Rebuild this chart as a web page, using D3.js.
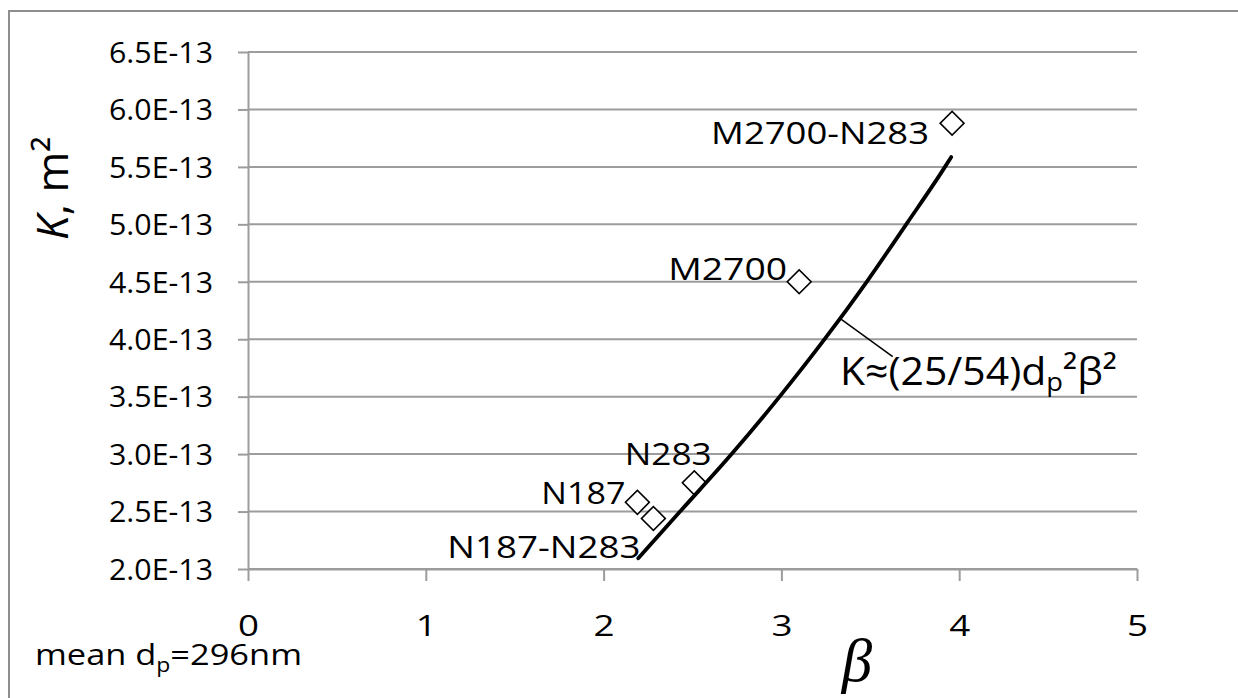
<!DOCTYPE html>
<html>
<head>
<meta charset="utf-8">
<script src="https://cdn.jsdelivr.net/npm/d3@7"></script>
<style>
  html, body { margin: 0; padding: 0; background: #ffffff; }
  svg { display: block; }
  text { font-family: 'Open Sans', sans-serif; fill: #000; }
</style>
</head>
<body>
<svg id="chart" width="1238" height="698"></svg>
<script>
// Measured permeability K of each particle bed against the shape factor beta
const sampleNames = ["N187", "N187-N283", "N283", "M2700", "M2700-N283"];
const sampleBeta  = [2.19, 2.28, 2.51, 3.10, 3.96];
const sampleK     = [2.58e-13, 2.44e-13, 2.75e-13, 4.50e-13, 5.88e-13];

// Model curve K ≈ (25/54) dp² β²
const modelBeta = [2.195, 2.43, 2.72, 2.99, 3.243, 3.48, 3.702, 3.92, 3.955];
const modelK    = [2.093e-13, 2.5e-13, 3.0e-13, 3.5e-13, 4.0e-13, 4.5e-13, 5.0e-13, 5.5e-13, 5.586e-13];

// Axis ticks
const xTicks      = [0, 1, 2, 3, 4, 5];
const xTickLabels = ["0", "1", "2", "3", "4", "5"];
const yTicks      = [2.0e-13, 2.5e-13, 3.0e-13, 3.5e-13, 4.0e-13, 4.5e-13, 5.0e-13, 5.5e-13, 6.0e-13, 6.5e-13];
const yTickLabels = ["2.0E-13", "2.5E-13", "3.0E-13", "3.5E-13", "4.0E-13", "4.5E-13", "5.0E-13", "5.5E-13", "6.0E-13", "6.5E-13"];

// ---- layout ----
const plot = { left: 248, right: 1137, top: 52, bottom: 569 };
const gridColor = "#9c9c9c";

// data-label placement relative to each marker: dx, dy (px), anchor, drawn width
const labelLayout = {
  "N187":       { dx: -12, dy: 2,   anchor: "end",    len: 84 },
  "N187-N283":  { dx: -13, dy: 40,  anchor: "end",    len: 193 },
  "N283":       { dx: -26, dy: -18, anchor: "middle", len: 87 },
  "M2700":      { dx: -12, dy: -2,  anchor: "end",    len: 119 },
  "M2700-N283": { dx: -23, dy: 21,  anchor: "end",    len: 218 }
};

const svg = d3.select("#chart");

const x = d3.scaleLinear().domain([0, 5]).range([plot.left, plot.right]);
const y = d3.scaleLinear().domain([2.0e-13, 6.5e-13]).range([plot.bottom, plot.top]);

// chart-area frame
svg.append("rect")
  .attr("x", 9).attr("y", 11)
  .attr("width", 1300).attr("height", 800)
  .attr("fill", "none")
  .attr("stroke", "#8e8e8e")
  .attr("stroke-width", 2);

// horizontal gridlines
svg.append("g")
  .selectAll("line")
  .data(yTicks)
  .join("line")
  .attr("x1", plot.left).attr("x2", plot.right)
  .attr("y1", d => y(d)).attr("y2", d => y(d))
  .attr("stroke", gridColor)
  .attr("stroke-width", 2);

// y axis
const yAxis = svg.append("g")
  .attr("transform", `translate(${plot.left},0)`)
  .call(d3.axisLeft(y)
    .tickValues(yTicks)
    .tickFormat((d, i) => yTickLabels[i])
    .tickSize(10)
    .tickSizeOuter(0)
    .tickPadding(25));

// x axis
const xAxis = svg.append("g")
  .attr("transform", `translate(0,${plot.bottom})`)
  .call(d3.axisBottom(x)
    .tickValues(xTicks)
    .tickFormat((d, i) => xTickLabels[i])
    .tickSize(12)
    .tickSizeOuter(0));

[yAxis, xAxis].forEach(g => {
  g.attr("font-family", null).attr("font-size", null);
  g.select(".domain").attr("stroke", gridColor).attr("stroke-width", 2);
  g.selectAll(".tick line").attr("stroke", gridColor).attr("stroke-width", 2);
});

yAxis.selectAll(".tick text")
  .attr("font-size", 28.5)
  .attr("dy", "0.36em")
  .attr("textLength", 104)
  .attr("lengthAdjust", "spacingAndGlyphs");

xAxis.selectAll(".tick text")
  .attr("font-size", 28.5)
  .attr("y", 67)
  .attr("dy", 0)
  .attr("textLength", 21)
  .attr("lengthAdjust", "spacingAndGlyphs");

// sample markers (open diamonds)
const samples = sampleNames.map((n, i) => ({ name: n, beta: sampleBeta[i], k: sampleK[i] }));
const diamond = d3.symbol().type(d3.symbolSquare).size(285);

svg.append("g")
  .selectAll("path")
  .data(samples)
  .join("path")
  .attr("d", diamond)
  .attr("transform", d => `translate(${x(d.beta)},${y(d.k)}) rotate(45)`)
  .attr("fill", "#fff")
  .attr("stroke", "#000")
  .attr("stroke-width", 1.6);

// model curve
const model = modelBeta.map((b, i) => ({ beta: b, k: modelK[i] }));
svg.append("path")
  .datum(model)
  .attr("d", d3.line().x(d => x(d.beta)).y(d => y(d.k)).curve(d3.curveMonotoneX))
  .attr("fill", "none")
  .attr("stroke", "#000")
  .attr("stroke-width", 3.8)
  .attr("stroke-linejoin", "round")
  .attr("stroke-linecap", "round");

// sample labels
svg.append("g")
  .selectAll("text")
  .data(samples)
  .join("text")
  .attr("x", d => x(d.beta) + labelLayout[d.name].dx)
  .attr("y", d => y(d.k) + labelLayout[d.name].dy)
  .attr("text-anchor", d => labelLayout[d.name].anchor)
  .attr("font-size", 31)
  .attr("textLength", d => labelLayout[d.name].len)
  .attr("lengthAdjust", "spacingAndGlyphs")
  .text(d => d.name);

// curve annotation with leader line
const leaderFrom = [3.335, 4.175e-13];
const leaderTo   = [3.626, 3.849e-13];
const formulaAt  = [3.33, 3.603e-13];

svg.append("line")
  .attr("x1", x(leaderFrom[0])).attr("y1", y(leaderFrom[1]))
  .attr("x2", x(leaderTo[0])).attr("y2", y(leaderTo[1]))
  .attr("stroke", "#000")
  .attr("stroke-width", 1.5);

const formula = svg.append("text")
  .attr("x", x(formulaAt[0]))
  .attr("y", y(formulaAt[1]))
  .attr("font-size", 39)
  .attr("textLength", 277)
  .attr("lengthAdjust", "spacingAndGlyphs");
formula.append("tspan").text("K≈(25/54)d");
formula.append("tspan").attr("font-size", 26).attr("dy", 6).text("p");
formula.append("tspan").attr("dy", -6).text("²β²");

// axis titles
const yTitle = svg.append("text")
  .attr("transform", "translate(68,240) rotate(-90)")
  .attr("font-size", 44);
yTitle.append("tspan").attr("font-style", "italic").text("K");
yTitle.append("tspan").text(", m²");

svg.append("text")
  .attr("x", 857)
  .attr("y", 681)
  .attr("text-anchor", "middle")
  .style("font-family", "'Liberation Serif', serif")
  .style("font-style", "italic")
  .attr("font-size", 61)
  .text("β");

// bed note
const note = svg.append("text")
  .attr("x", 35)
  .attr("y", 665)
  .attr("font-size", 30)
  .attr("textLength", 267)
  .attr("lengthAdjust", "spacingAndGlyphs");
note.append("tspan").text("mean d");
note.append("tspan").attr("font-size", 20).attr("dy", 7).text("p");
note.append("tspan").attr("dy", -7).text("=296nm");
</script>
</body>
</html>
